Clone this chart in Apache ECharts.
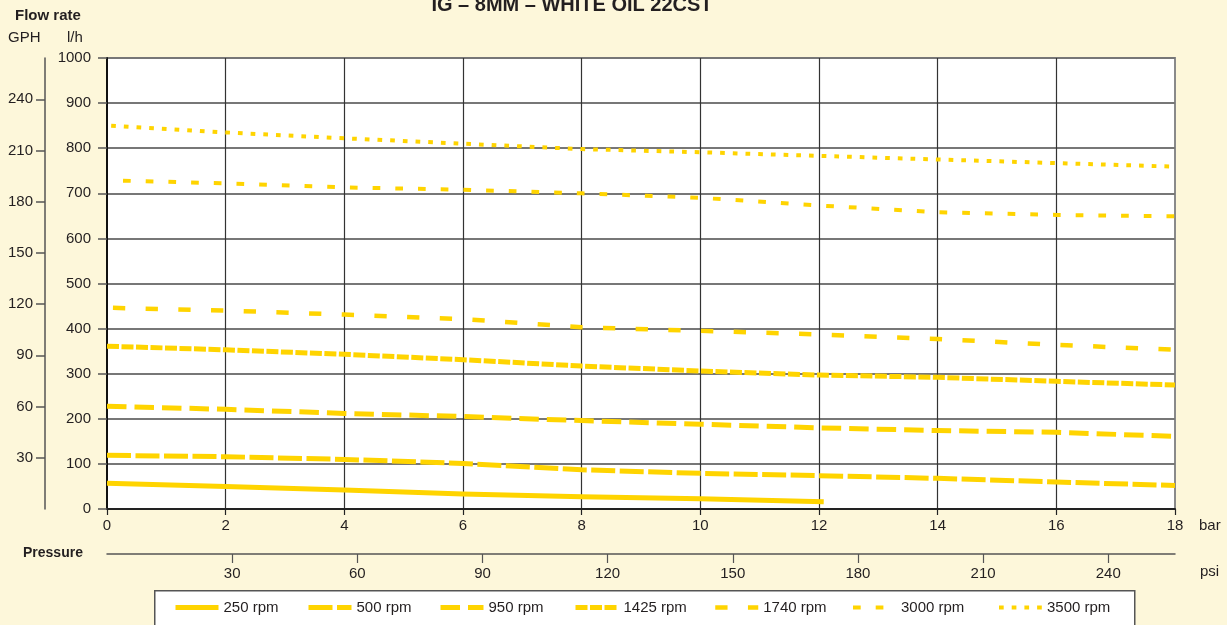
<!DOCTYPE html>
<html>
<head>
<meta charset="utf-8">
<script src="https://cdn.jsdelivr.net/npm/echarts@6/dist/echarts.min.js"></script>
<style>
html,body{margin:0;padding:0;background:#fdf7da;}
#c{width:1227px;height:625px;}
</style>
</head>
<body>
<div id="c"></div>
<script>
// ---- data ----
const chartTitle = 'IG – 8MM – WHITE OIL 22CST';
const seriesNames = ['250 rpm', '500 rpm', '950 rpm', '1425 rpm', '1740 rpm', '3000 rpm', '3500 rpm'];
// [pressure bar, flow l/h]
const flow250  = [[0,57],[2,50],[4,42],[6,33],[8,27],[10,23],[12.08,16]];
const flow500  = [[0,119],[2,116],[4,110],[6,101],[8,87],[10,79],[12,74],[14,68],[16,60],[18,52]];
const flow950  = [[0,228],[2,221],[4,212],[6,205],[8,196],[10,188],[12,180],[14,174],[16,170],[18,161]];
const flow1425 = [[0,361],[2,353],[4,343],[6,331],[8,317],[10,306],[12,297],[14,292],[16,283],[18,275]];
const flow1740 = [[0.1,446],[2,440],[4,431],[6,421],[8,403],[10,395],[12,387],[14,377],[16,364],[18,353]];
const flow3000 = [[0.27,728],[2,722],[4,713],[6,708],[8,700],[10,690],[12,673],[14,658],[16,652],[18,649]];
const flow3500 = [[0.07,850],[2,835],[4,822],[6,810],[8,798],[10,791],[12,783],[14,775],[16,767],[18,759]];
const psiTicks = [30, 60, 90, 120, 150, 180, 210, 240];
const gphTicks = [30, 60, 90, 120, 150, 180, 210, 240];
const barMax = 18, lphMax = 1000, psiMax = 256;
const gphMax = lphMax / 3.785411784;

// ---- styling ----
const FONT = '"Liberation Sans", Arial, sans-serif';
const TXT = '#231f20';
const YEL = '#ffd400';
const styles = [
  { width: 5,   type: 'solid' },
  { width: 5,   type: [24, 4.5] },
  { width: 5,   type: [19.5, 8] },
  { width: 5,   type: [12, 2.5] },
  { width: 4.5, type: [12.3, 20.4] },
  { width: 4,   type: [7.7, 15] },
  { width: 4,   type: [4.7, 8] }
];
const flows = [flow250, flow500, flow950, flow1425, flow1740, flow3000, flow3500];
const legendLeft = [173, 306, 438, 573, 713, 851, 997];

const chart = echarts.init(document.getElementById('c'), null, { renderer: 'canvas' });

const series = seriesNames.map((n, i) => ({
  name: n, type: 'line', data: flows[i], xAxisIndex: 0, yAxisIndex: 0,
  symbol: 'none', showSymbol: false, animation: false,
  lineStyle: { color: YEL, width: styles[i].width, type: styles[i].type, cap: 'butt', join: 'round' },
  itemStyle: { color: YEL },
  z: 3
}));

const legends = seriesNames.map((n, i) => ({
  data: [n], left: legendLeft[i], top: 600, padding: 0,
  itemWidth: 43, itemHeight: 14, itemGap: 0,
  itemStyle: { opacity: 0, color: 'rgba(0,0,0,0)', borderWidth: 0 },
  lineStyle: { color: YEL, width: styles[i].width, type: styles[i].type, cap: 'butt' },
  textStyle: { fontFamily: FONT, fontSize: 15, color: TXT },
  selectedMode: false
}));

const plain = v => String(v);

const option = {
  backgroundColor: '#fdf7da',
  animation: false,
  textStyle: { fontFamily: FONT },
  grid: { left: 107, top: 58, width: 1068, height: 451, show: true,
          backgroundColor: '#ffffff', borderColor: '#8a8a8a', borderWidth: 2 },
  legend: legends,
  xAxis: [
    { type: 'value', min: 0, max: barMax, interval: 2,
      axisLine: { show: true, lineStyle: { color: '#222', width: 2 } },
      axisTick: { show: true, length: 6, lineStyle: { color: '#222', width: 1.2 } },
      axisLabel: { margin: 9, fontSize: 15, color: TXT, fontFamily: FONT, formatter: plain },
      splitLine: { show: true, showMinLine: false, showMaxLine: false, lineStyle: { color: '#333', width: 1.2 } } },
    { type: 'value', position: 'bottom', offset: 45, min: 0, max: psiMax,
      axisLine: { show: true, onZero: false, lineStyle: { color: '#555', width: 1.5 } },
      axisTick: { show: true, length: 9, customValues: psiTicks, lineStyle: { color: '#555', width: 1.2 } },
      axisLabel: { margin: 12, fontSize: 15, color: TXT, fontFamily: FONT, customValues: psiTicks, formatter: plain },
      splitLine: { show: false } }
  ],
  yAxis: [
    { type: 'value', min: 0, max: lphMax, interval: 100,
      axisLine: { show: true, lineStyle: { color: '#111', width: 2 } },
      axisTick: { show: true, length: 9, lineStyle: { color: '#555', width: 1.5 } },
      axisLabel: { margin: 16, fontSize: 15, color: TXT, fontFamily: FONT, formatter: plain },
      splitLine: { show: true, lineStyle: { color: '#777', width: 1.8 } } },
    { type: 'value', position: 'left', offset: 62, min: 0, max: gphMax,
      axisLine: { show: true, onZero: false, lineStyle: { color: '#555', width: 1.5 } },
      axisTick: { show: true, length: 9, customValues: gphTicks, lineStyle: { color: '#555', width: 1.5 } },
      axisLabel: { margin: 12, fontSize: 15, color: TXT, fontFamily: FONT, customValues: gphTicks, formatter: plain },
      splitLine: { show: false } }
  ],
  graphic: [
    { type: 'rect', left: 154, top: 590, z: 1,
      shape: { width: 980, height: 45 },
      style: { fill: '#ffffff', stroke: '#555', lineWidth: 1.5 } },
    { type: 'text', x: 572, y: 5, z: 10,
      style: { text: chartTitle, font: 'bold 20px ' + FONT, fill: TXT, textAlign: 'center', textVerticalAlign: 'middle' } },
    { type: 'text', x: 15, y: 16, z: 10,
      style: { text: 'Flow rate', font: 'bold 15px ' + FONT, fill: TXT, textAlign: 'left', textVerticalAlign: 'middle' } },
    { type: 'text', x: 8, y: 38, z: 10,
      style: { text: 'GPH', font: '15px ' + FONT, fill: TXT, textAlign: 'left', textVerticalAlign: 'middle' } },
    { type: 'text', x: 67, y: 38, z: 10,
      style: { text: 'l/h', font: '15px ' + FONT, fill: TXT, textAlign: 'left', textVerticalAlign: 'middle' } },
    { type: 'text', x: 23, y: 553, z: 10,
      style: { text: 'Pressure', font: 'bold 14px ' + FONT, fill: TXT, textAlign: 'left', textVerticalAlign: 'middle' } },
    { type: 'text', x: 1199, y: 526, z: 10,
      style: { text: 'bar', font: '15px ' + FONT, fill: TXT, textAlign: 'left', textVerticalAlign: 'middle' } },
    { type: 'text', x: 1200, y: 572, z: 10,
      style: { text: 'psi', font: '15px ' + FONT, fill: TXT, textAlign: 'left', textVerticalAlign: 'middle' } }
  ],
  series: series
};
chart.setOption(option);
</script>
</body>
</html>
